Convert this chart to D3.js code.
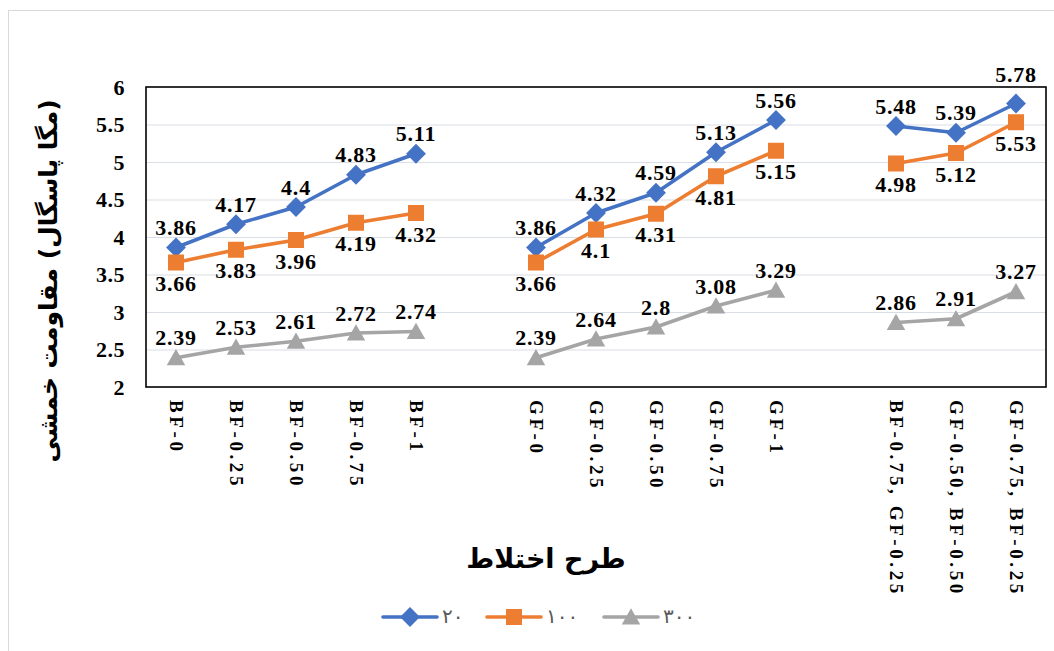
<!DOCTYPE html>
<html><head><meta charset="utf-8">
<script src="https://cdn.jsdelivr.net/npm/d3@7"></script>
<style>
html,body{margin:0;padding:0;background:#fff;}
svg{display:block;}
</style></head>
<body>
<svg id="chart" width="1054" height="651"></svg>
<script>
const categories = ["BF-0","BF-0.25","BF-0.50","BF-0.75","BF-1","",
  "GF-0","GF-0.25","GF-0.50","GF-0.75","GF-1","",
  "BF-0.75, GF-0.25","GF-0.50, BF-0.50","GF-0.75, BF-0.25"];
const series20  = [3.86,4.17,4.4,4.83,5.11,null,3.86,4.32,4.59,5.13,5.56,null,5.48,5.39,5.78];
const series100 = [3.66,3.83,3.96,4.19,4.32,null,3.66,4.1,4.31,4.81,5.15,null,4.98,5.12,5.53];
const series300 = [2.39,2.53,2.61,2.72,2.74,null,2.39,2.64,2.8,3.08,3.29,null,2.86,2.91,3.27];
const seriesNames = ["۲۰","۱۰۰","۳۰۰"];
const yTicks = [2,2.5,3,3.5,4,4.5,5,5.5,6];
const yTickLabels = ["2","2.5","3","3.5","4","4.5","5","5.5","6"];
const yTitle = "(مگا پاسگال) مقاومت خمشی";
const xTitle = "طرح اختلاط";

const svg = d3.select("#chart");
const L = 146, R = 1046, T = 87, B = 387;

// outer chart border
svg.append("rect").attr("x",8.5).attr("y",10.5).attr("width",1100).attr("height",700)
  .attr("fill","none").attr("stroke","#d9d9d9").attr("stroke-width",1);

const x = d3.scaleBand().domain(d3.range(categories.length)).range([L,R]);
const y = d3.scaleLinear().domain([2,6]).range([B,T]);
const cx = i => x(i) + x.bandwidth()/2;

// gridlines
svg.append("g").selectAll("line").data(yTicks.slice(1,-1)).join("line")
  .attr("x1",L).attr("x2",R).attr("y1",d=>y(d)+0.5).attr("y2",d=>y(d)+0.5)
  .attr("stroke","#d9dde6").attr("stroke-width",1.2);

// y axis
const yAxis = svg.append("g").attr("transform",`translate(${L},0)`)
  .call(d3.axisLeft(y).tickValues(yTicks).tickFormat((d,i)=>yTickLabels[i]).tickSize(0).tickPadding(21));
yAxis.select(".domain").remove();
yAxis.selectAll("text").attr("font-family","'Liberation Serif','Times New Roman',serif")
  .attr("font-weight","bold").attr("font-size",22).attr("fill","#000").attr("letter-spacing",0.5);

// x axis labels
const xAxis = svg.append("g").attr("transform",`translate(0,${B})`)
  .call(d3.axisBottom(x).tickFormat(i=>categories[i]).tickSize(0));
xAxis.select(".domain").remove();
xAxis.selectAll("text")
  .attr("font-family","'Liberation Serif','Times New Roman',serif")
  .attr("font-weight","bold").attr("font-size",19).attr("fill","#000")
  .attr("letter-spacing",3.6)
  .attr("text-anchor","start").attr("dy",null).attr("y",0).attr("x",0)
  .attr("dominant-baseline","central")
  .attr("transform","translate(0,13) rotate(90)");

// frame
svg.append("rect").attr("x",L).attr("y",T).attr("width",R-L).attr("height",B-T)
  .attr("fill","none").attr("stroke","#000").attr("stroke-width",1.6);

const colors = ["#4472C4","#ED7D31","#A5A5A5"];
const allSeries = [series20, series100, series300];
const labelPos = ["above","below","above"];

const line = d3.line().defined(d=>d.v!=null).x(d=>cx(d.i)).y(d=>y(d.v));

function marker(g, k, size){
  if(k===0){
    const s=size*0.62;
    g.append("path").attr("d",`M0,${-s}L${s},0L0,${s}L${-s},0Z`).attr("fill",colors[0]);
  } else if(k===1){
    const s=size*0.5;
    g.append("rect").attr("x",-s).attr("y",-s).attr("width",2*s).attr("height",2*s).attr("fill",colors[1]);
  } else {
    const s=size*0.55;
    g.append("path").attr("d",`M0,${-s}L${s*1.05},${s*0.85}L${-s*1.05},${s*0.85}Z`).attr("fill",colors[2]);
  }
}

allSeries.forEach((vals,k)=>{
  const pts = vals.map((v,i)=>({i,v}));
  svg.append("path").datum(pts).attr("d",line).attr("fill","none")
    .attr("stroke",colors[k]).attr("stroke-width",3.6).attr("stroke-linejoin","round");
  const g = svg.append("g");
  pts.filter(d=>d.v!=null).forEach(d=>{
    const mg = g.append("g").attr("transform",`translate(${cx(d.i)},${y(d.v)})`);
    marker(mg,k,16);
  });
  const lg = svg.append("g");
  pts.filter(d=>d.v!=null).forEach(d=>{
    const above = labelPos[k]==="above";
    const top = above && y(d.v) < T + 20;
    lg.append("text").attr("x",cx(d.i)).attr("y",y(d.v) + (above ? (top ? -29 : -20) : 21))
      .attr("dominant-baseline","central").attr("text-anchor","middle")
      .attr("font-family","'Liberation Serif','Times New Roman',serif")
      .attr("font-weight","bold").attr("font-size",22).attr("letter-spacing",0.8).attr("fill","#000")
      .text(d3.format("")(d.v));
  });
});

// axis titles
svg.append("text").attr("transform","translate(48,281) rotate(-90)")
  .attr("text-anchor","middle").attr("dominant-baseline","central")
  .attr("direction","rtl")
  .attr("font-family","'DejaVu Sans',sans-serif").attr("font-weight","bold").attr("font-size",25)
  .attr("fill","#000").text(yTitle);
svg.append("text").attr("x",546).attr("y",558)
  .attr("text-anchor","middle").attr("dominant-baseline","central").attr("direction","rtl")
  .attr("font-family","'DejaVu Sans',sans-serif").attr("font-weight","bold").attr("font-size",27)
  .attr("fill","#000").text(xTitle);

// legend
const legendX = [383, 487, 604];
seriesNames.forEach((name,k)=>{
  const g = svg.append("g").attr("transform",`translate(${legendX[k]},617)`);
  g.append("line").attr("x1",0).attr("x2",54).attr("y1",0).attr("y2",0)
    .attr("stroke",colors[k]).attr("stroke-width",3.6).attr("stroke-linecap","round");
  const mg = g.append("g").attr("transform","translate(27,0)");
  marker(mg,k,16);
  g.append("text").attr("x",59).attr("y",-1).attr("dominant-baseline","central")
    .attr("font-family","'DejaVu Sans',sans-serif").attr("font-size",20).attr("fill","#595959")
    .attr("letter-spacing",6).text(name);
});
</script>
</body></html>
